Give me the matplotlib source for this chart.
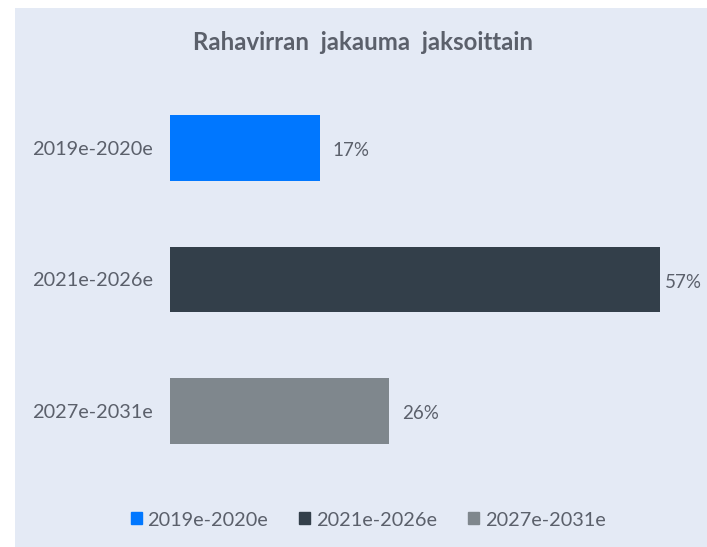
import matplotlib.pyplot as plt
from matplotlib.patches import Rectangle

jaksot = ["2019e-2020e", "2021e-2026e", "2027e-2031e"]
osuudet = [17.4, 57.0, 25.5]
labels = ["17%", "57%", "26%"]
colors = ["#0077FF", "#333F4A", "#7F878D"]

bg = "#E4EAF5"
txt = "#5B606B"
plt.rcParams['font.family'] = ['Lato', 'DejaVu Sans']

fig = plt.figure(figsize=(7.07, 5.47), dpi=100)
fig.patches.append(Rectangle((15 / 707, 0), 1, (547 - 8) / 547, transform=fig.transFigure,
                             facecolor=bg, edgecolor="none", zorder=-5))

ax = fig.add_axes([170 / 707, 57 / 547, 516 / 707, 421 / 547])
ax.set_facecolor("none")
ax.set_zorder(2)

ypos = list(range(len(jaksot)))
bars = ax.barh(ypos, osuudet, height=0.5, color=colors)
for b, lab in zip(bars, labels):
    # jos tila loppuu, label lähemmäs palkkia
    x = min(b.get_width() + 1.5, 57.55)
    ax.text(x, b.get_y() + b.get_height() / 2 + 0.02, lab,
            va="center", ha="left", fontsize=13.5, color=txt, clip_on=False)

ax.set_xlim(0, 60)
ax.set_ylim(2.6, -0.6)
ax.set_yticks(ypos)
ax.set_yticklabels(jaksot, fontsize=14.3, color=txt)
ax.tick_params(axis="y", length=0, pad=12.5)
ax.set_xticks([])
for s in ax.spines.values():
    s.set_visible(False)

fig.text(363 / 707, 1 - 42 / 547, "Rahavirran  jakauma  jaksoittain", ha="center", va="center",
         fontsize=17.3, fontweight="bold", color=txt)

handles = [Rectangle((0, 0), 1, 1, color=c) for c in colors]
fig.legend(handles, jaksot, loc="center", bbox_to_anchor=(368 / 707, 1 - 520 / 547),
           ncol=3, frameon=False, fontsize=14.3, labelcolor=txt,
           handlelength=0.55, handleheight=0.55, handletextpad=0.3, columnspacing=1.55)

fig.savefig("out.png", dpi=100, facecolor="white")
